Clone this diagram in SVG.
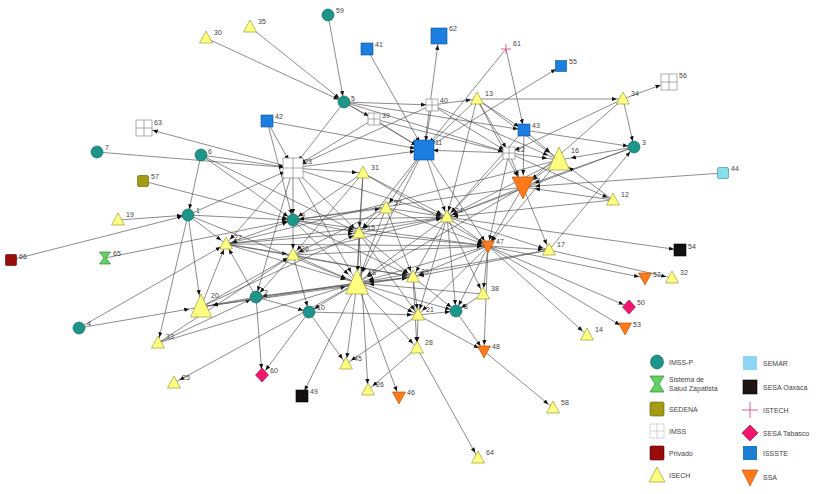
<svg xmlns="http://www.w3.org/2000/svg" width="817" height="494" viewBox="0 0 817 494">
<defs>
<style>
.e line{stroke:#4d4d4d;stroke-width:0.65;fill:none}
.lbl,.leg{font-family:"Liberation Sans",Arial,sans-serif;font-size:7px;fill:#444}
.tp{fill:#1d958a;stroke:#0e5f58;stroke-width:0.6}
.ye{fill:#ffff80;stroke:#9c9c3c;stroke-width:0.7}
.or{fill:#ff7a1a;stroke:#b04a00;stroke-width:0.6}
.bl{fill:#1c7fe0;stroke:#0d4f96;stroke-width:0.6}
.im{fill:#fff;stroke:#777;stroke-width:0.6}
.bk{fill:#141010;stroke:#000;stroke-width:0.6}
.pk{fill:#f0186e;stroke:#a00040;stroke-width:0.6}
.ol{fill:#a39c12;stroke:#5f5a00;stroke-width:0.6}
.rd{fill:#9a0c0c;stroke:#500;stroke-width:0.6}
.lb{fill:#86dfe8;stroke:#3a8a96;stroke-width:0.6}
.gr{fill:#62d262;stroke:#2e8b2e;stroke-width:0.7}
.cr{stroke:#e0609a;stroke-width:1;fill:none}
</style>
<marker id="a" viewBox="0 0 12 6" markerWidth="12" markerHeight="6" refX="11" refY="3" orient="auto" markerUnits="userSpaceOnUse"><path d="M0,0.9L5,3L0,5.1z" fill="#111"/></marker>
<marker id="b" viewBox="0 0 15 6" markerWidth="15" markerHeight="6" refX="14" refY="3" orient="auto" markerUnits="userSpaceOnUse"><path d="M0,0.9L5,3L0,5.1z" fill="#111"/></marker>
<marker id="c" viewBox="0 0 18 6" markerWidth="18" markerHeight="6" refX="17" refY="3" orient="auto" markerUnits="userSpaceOnUse"><path d="M0,0.9L5,3L0,5.1z" fill="#111"/></marker>
</defs>
<rect width="817" height="494" fill="#fff"/>
<g id="connectors" class="e">
<g marker-end="url(#a)">
<line x1="250" y1="27" x2="344" y2="102"/>
<line x1="206" y1="38" x2="344" y2="102"/>
<line x1="328" y1="15" x2="344" y2="102"/>
<line x1="506" y1="49" x2="524" y2="130"/>
<line x1="424" y1="150" x2="561" y2="66"/>
<line x1="344" y1="102" x2="432" y2="105"/>
<line x1="432" y1="105" x2="477" y2="99"/>
<line x1="477" y1="99" x2="623" y2="99"/>
<line x1="623" y1="99" x2="634" y2="147"/>
<line x1="623" y1="99" x2="509" y2="153"/>
<line x1="344" y1="102" x2="374" y2="119"/>
<line x1="344" y1="102" x2="509" y2="153"/>
<line x1="344" y1="102" x2="524" y2="130"/>
<line x1="432" y1="105" x2="509" y2="153"/>
<line x1="374" y1="119" x2="509" y2="153"/>
<line x1="477" y1="99" x2="509" y2="153"/>
<line x1="477" y1="99" x2="524" y2="130"/>
<line x1="524" y1="130" x2="634" y2="147"/>
<line x1="549" y1="250" x2="634" y2="147"/>
<line x1="509" y1="153" x2="613" y2="200"/>
<line x1="509" y1="153" x2="447" y2="217"/>
<line x1="559" y1="160" x2="447" y2="217"/>
<line x1="613" y1="200" x2="447" y2="217"/>
<line x1="447" y1="217" x2="680" y2="250"/>
<line x1="488" y1="246" x2="645" y2="278"/>
<line x1="488" y1="246" x2="629" y2="307"/>
<line x1="488" y1="246" x2="625" y2="328"/>
<line x1="488" y1="246" x2="587" y2="335"/>
<line x1="549" y1="250" x2="672" y2="278"/>
<line x1="484" y1="351" x2="553" y2="408"/>
<line x1="523" y1="187" x2="447" y2="217"/>
<line x1="523" y1="187" x2="488" y2="246"/>
<line x1="523" y1="187" x2="549" y2="250"/>
<line x1="201" y1="155" x2="293" y2="220"/>
<line x1="201" y1="155" x2="188" y2="215"/>
<line x1="267" y1="121" x2="293" y2="220"/>
<line x1="188" y1="215" x2="293" y2="220"/>
<line x1="118" y1="220" x2="188" y2="215"/>
<line x1="11" y1="260" x2="188" y2="215"/>
<line x1="143" y1="181" x2="293" y2="220"/>
<line x1="105" y1="258" x2="293" y2="220"/>
<line x1="79" y1="328" x2="226" y2="244"/>
<line x1="188" y1="215" x2="158" y2="343"/>
<line x1="158" y1="343" x2="256" y2="297"/>
<line x1="158" y1="343" x2="293" y2="255"/>
<line x1="256" y1="297" x2="226" y2="244"/>
<line x1="201" y1="307" x2="226" y2="244"/>
<line x1="256" y1="297" x2="262" y2="375"/>
<line x1="309" y1="312" x2="262" y2="375"/>
<line x1="357" y1="283" x2="174" y2="383"/>
<line x1="226" y1="244" x2="293" y2="220"/>
<line x1="226" y1="244" x2="359" y2="233"/>
<line x1="226" y1="244" x2="447" y2="217"/>
<line x1="226" y1="244" x2="293" y2="255"/>
<line x1="226" y1="244" x2="488" y2="246"/>
<line x1="201" y1="307" x2="293" y2="255"/>
<line x1="201" y1="307" x2="359" y2="233"/>
<line x1="293" y1="168" x2="293" y2="220"/>
<line x1="293" y1="168" x2="256" y2="297"/>
<line x1="293" y1="168" x2="359" y2="233"/>
<line x1="293" y1="168" x2="447" y2="217"/>
<line x1="293" y1="168" x2="363" y2="173"/>
<line x1="293" y1="220" x2="293" y2="255"/>
<line x1="293" y1="220" x2="359" y2="233"/>
<line x1="293" y1="220" x2="447" y2="217"/>
<line x1="293" y1="220" x2="413" y2="277"/>
<line x1="293" y1="220" x2="488" y2="246"/>
<line x1="293" y1="220" x2="386" y2="208"/>
<line x1="363" y1="173" x2="359" y2="233"/>
<line x1="363" y1="173" x2="447" y2="217"/>
<line x1="363" y1="173" x2="293" y2="255"/>
<line x1="363" y1="173" x2="293" y2="220"/>
<line x1="386" y1="208" x2="359" y2="233"/>
<line x1="386" y1="208" x2="413" y2="277"/>
<line x1="386" y1="208" x2="447" y2="217"/>
<line x1="386" y1="208" x2="293" y2="255"/>
<line x1="386" y1="208" x2="488" y2="246"/>
<line x1="359" y1="233" x2="447" y2="217"/>
<line x1="359" y1="233" x2="488" y2="246"/>
<line x1="359" y1="233" x2="413" y2="277"/>
<line x1="359" y1="233" x2="418" y2="315"/>
<line x1="293" y1="255" x2="309" y2="312"/>
<line x1="293" y1="255" x2="256" y2="297"/>
<line x1="293" y1="255" x2="413" y2="277"/>
<line x1="293" y1="255" x2="488" y2="246"/>
<line x1="293" y1="255" x2="447" y2="217"/>
<line x1="447" y1="217" x2="488" y2="246"/>
<line x1="447" y1="217" x2="413" y2="277"/>
<line x1="447" y1="217" x2="418" y2="315"/>
<line x1="447" y1="217" x2="483" y2="294"/>
<line x1="447" y1="217" x2="549" y2="250"/>
<line x1="447" y1="217" x2="456" y2="311"/>
<line x1="488" y1="246" x2="413" y2="277"/>
<line x1="488" y1="246" x2="418" y2="315"/>
<line x1="488" y1="246" x2="483" y2="294"/>
<line x1="488" y1="246" x2="484" y2="351"/>
<line x1="488" y1="246" x2="549" y2="250"/>
<line x1="488" y1="246" x2="456" y2="311"/>
<line x1="413" y1="277" x2="418" y2="315"/>
<line x1="413" y1="277" x2="456" y2="311"/>
<line x1="413" y1="277" x2="417" y2="348"/>
<line x1="357" y1="283" x2="309" y2="312"/>
<line x1="357" y1="283" x2="418" y2="315"/>
<line x1="357" y1="283" x2="417" y2="348"/>
<line x1="357" y1="283" x2="346" y2="364"/>
<line x1="357" y1="283" x2="399" y2="397"/>
<line x1="357" y1="283" x2="302" y2="396"/>
<line x1="357" y1="283" x2="256" y2="297"/>
<line x1="357" y1="283" x2="456" y2="311"/>
<line x1="418" y1="315" x2="456" y2="311"/>
<line x1="418" y1="315" x2="484" y2="351"/>
<line x1="418" y1="315" x2="417" y2="348"/>
<line x1="418" y1="315" x2="346" y2="364"/>
<line x1="456" y1="311" x2="484" y2="351"/>
<line x1="309" y1="312" x2="346" y2="364"/>
<line x1="309" y1="312" x2="418" y2="315"/>
<line x1="483" y1="294" x2="456" y2="311"/>
<line x1="417" y1="348" x2="478" y2="458"/>
<line x1="417" y1="348" x2="368" y2="390"/>
<line x1="359" y1="233" x2="368" y2="390"/>
<line x1="256" y1="297" x2="309" y2="312"/>
<line x1="424" y1="150" x2="447" y2="217"/>
<line x1="424" y1="150" x2="359" y2="233"/>
<line x1="424" y1="150" x2="488" y2="246"/>
<line x1="424" y1="150" x2="386" y2="208"/>
<line x1="549" y1="250" x2="413" y2="277"/>
<line x1="523" y1="187" x2="293" y2="220"/>
<line x1="559" y1="160" x2="226" y2="244"/>
<line x1="634" y1="147" x2="447" y2="217"/>
<line x1="226" y1="244" x2="413" y2="277"/>
<line x1="201" y1="155" x2="359" y2="233"/>
<line x1="509" y1="153" x2="488" y2="246"/>
<line x1="524" y1="130" x2="447" y2="217"/>
<line x1="559" y1="160" x2="488" y2="246"/>
<line x1="188" y1="215" x2="226" y2="244"/>
<line x1="293" y1="168" x2="226" y2="244"/>
<line x1="477" y1="99" x2="447" y2="217"/>
<line x1="363" y1="173" x2="488" y2="246"/>
<line x1="256" y1="297" x2="413" y2="277"/>
<line x1="201" y1="307" x2="413" y2="277"/>
</g>
<g marker-end="url(#b)">
<line x1="367" y1="49" x2="424" y2="150"/>
<line x1="424" y1="150" x2="439" y2="36"/>
<line x1="506" y1="49" x2="424" y2="150"/>
<line x1="623" y1="99" x2="669" y2="82"/>
<line x1="344" y1="102" x2="293" y2="168"/>
<line x1="344" y1="102" x2="424" y2="150"/>
<line x1="432" y1="105" x2="424" y2="150"/>
<line x1="432" y1="105" x2="293" y2="168"/>
<line x1="374" y1="119" x2="424" y2="150"/>
<line x1="374" y1="119" x2="293" y2="168"/>
<line x1="477" y1="99" x2="424" y2="150"/>
<line x1="509" y1="153" x2="424" y2="150"/>
<line x1="97" y1="152" x2="293" y2="168"/>
<line x1="293" y1="168" x2="144" y2="128"/>
<line x1="201" y1="155" x2="293" y2="168"/>
<line x1="267" y1="121" x2="293" y2="168"/>
<line x1="267" y1="121" x2="424" y2="150"/>
<line x1="188" y1="215" x2="293" y2="168"/>
<line x1="293" y1="168" x2="424" y2="150"/>
</g>
<g marker-end="url(#c)">
<line x1="623" y1="99" x2="523" y2="187"/>
<line x1="432" y1="105" x2="559" y2="160"/>
<line x1="477" y1="99" x2="559" y2="160"/>
<line x1="477" y1="99" x2="523" y2="187"/>
<line x1="524" y1="130" x2="559" y2="160"/>
<line x1="524" y1="130" x2="523" y2="187"/>
<line x1="634" y1="147" x2="559" y2="160"/>
<line x1="634" y1="147" x2="523" y2="187"/>
<line x1="509" y1="153" x2="559" y2="160"/>
<line x1="509" y1="153" x2="523" y2="187"/>
<line x1="559" y1="160" x2="523" y2="187"/>
<line x1="613" y1="200" x2="523" y2="187"/>
<line x1="613" y1="200" x2="559" y2="160"/>
<line x1="723" y1="173" x2="523" y2="187"/>
<line x1="188" y1="215" x2="201" y2="307"/>
<line x1="79" y1="328" x2="201" y2="307"/>
<line x1="256" y1="297" x2="201" y2="307"/>
<line x1="357" y1="283" x2="201" y2="307"/>
<line x1="226" y1="244" x2="357" y2="283"/>
<line x1="293" y1="168" x2="357" y2="283"/>
<line x1="293" y1="220" x2="357" y2="283"/>
<line x1="363" y1="173" x2="357" y2="283"/>
<line x1="386" y1="208" x2="357" y2="283"/>
<line x1="359" y1="233" x2="357" y2="283"/>
<line x1="293" y1="255" x2="357" y2="283"/>
<line x1="447" y1="217" x2="357" y2="283"/>
<line x1="488" y1="246" x2="357" y2="283"/>
<line x1="413" y1="277" x2="357" y2="283"/>
<line x1="424" y1="150" x2="357" y2="283"/>
<line x1="549" y1="250" x2="357" y2="283"/>
<line x1="523" y1="187" x2="357" y2="283"/>
<line x1="483" y1="294" x2="357" y2="283"/>
<line x1="188" y1="215" x2="357" y2="283"/>
<line x1="158" y1="343" x2="357" y2="283"/>
</g>
</g>
<g id="nodes">
<g id="n1" transform="translate(188,215)"><circle class="tp" r="6"/><text class="lbl" x="8" y="-2">1</text></g>
<g id="n2" transform="translate(256,297)"><circle class="tp" r="6"/><text class="lbl" x="8" y="-2">2</text></g>
<g id="n3" transform="translate(634,147)"><circle class="tp" r="6"/><text class="lbl" x="8" y="-2">3</text></g>
<g id="n4" transform="translate(79,328)"><circle class="tp" r="6"/><text class="lbl" x="8" y="-2">4</text></g>
<g id="n5" transform="translate(344,102)"><circle class="tp" r="6"/><text class="lbl" x="7" y="-1">5</text></g>
<g id="n6" transform="translate(201,155)"><circle class="tp" r="6"/><text class="lbl" x="7" y="-1">6</text></g>
<g id="n7" transform="translate(97,152)"><circle class="tp" r="6"/><text class="lbl" x="8" y="-2">7</text></g>
<g id="n8" transform="translate(456,311)"><circle class="tp" r="6"/><text class="lbl" x="8" y="-2">8</text></g>
<g id="n9" transform="translate(293,220)"><circle class="tp" r="6"/><text class="lbl" x="8" y="-2">9</text></g>
<g id="n10" transform="translate(309,312)"><circle class="tp" r="6"/><text class="lbl" x="8" y="-2">10</text></g>
<g id="n11" transform="translate(424,150)"><rect class="bl" x="-10" y="-10" width="20" height="20"/><text class="lbl" x="11" y="-5">11</text></g>
<g id="n12" transform="translate(613,200)"><polygon class="ye" points="0,-7 6.5,5 -6.5,5"/><text class="lbl" x="8" y="-3">12</text></g>
<g id="n13" transform="translate(477,99)"><polygon class="ye" points="0,-7 6.5,5 -6.5,5"/><text class="lbl" x="8" y="-3">13</text></g>
<g id="n14" transform="translate(587,335)"><polygon class="ye" points="0,-7 6.5,5 -6.5,5"/><text class="lbl" x="8" y="-3">14</text></g>
<g id="n15" transform="translate(359,233)"><polygon class="ye" points="0,-7 6.5,5 -6.5,5"/><text class="lbl" x="8" y="-3">15</text></g>
<g id="n16" transform="translate(559,160)"><polygon class="ye" points="0,-13 10.5,10 -10.5,10"/><text class="lbl" x="12" y="-7">16</text></g>
<g id="n17" transform="translate(549,250)"><polygon class="ye" points="0,-7 6.5,5 -6.5,5"/><text class="lbl" x="8" y="-3">17</text></g>
<g id="n18" transform="translate(357,283)"><polygon class="ye" points="0,-14 11.5,11 -11.5,11"/><text class="lbl" x="11" y="-8">18</text></g>
<g id="n19" transform="translate(118,220)"><polygon class="ye" points="0,-7 6.5,5 -6.5,5"/><text class="lbl" x="8" y="-3">19</text></g>
<g id="n20" transform="translate(201,307)"><polygon class="ye" points="0,-13 10.5,10 -10.5,10"/><text class="lbl" x="10" y="-9">20</text></g>
<g id="n21" transform="translate(418,315)"><polygon class="ye" points="0,-7 6.5,5 -6.5,5"/><text class="lbl" x="8" y="-3">21</text></g>
<g id="n22" transform="translate(509,153)"><g class="im"><rect x="-6" y="-6" width="12" height="12"/><path d="M0,-6V6M-6,0H6"/></g><text class="lbl" x="8" y="-1">22</text></g>
<g id="n23" transform="translate(293,168)"><g class="im"><rect x="-10" y="-10" width="20" height="20"/><path d="M0,-10V10M-10,0H10"/></g><text class="lbl" x="11" y="-4">23</text></g>
<g id="n24" transform="translate(447,217)"><polygon class="ye" points="0,-7 6.5,5 -6.5,5"/><text class="lbl" x="8" y="-4">24</text></g>
<g id="n25" transform="translate(174,383)"><polygon class="ye" points="0,-7 6.5,5 -6.5,5"/><text class="lbl" x="8" y="-3">25</text></g>
<g id="n26" transform="translate(368,390)"><polygon class="ye" points="0,-7 6.5,5 -6.5,5"/><text class="lbl" x="8" y="-3">26</text></g>
<g id="n27" transform="translate(226,244)"><polygon class="ye" points="0,-7 6.5,5 -6.5,5"/><text class="lbl" x="8" y="-4">27</text></g>
<g id="n28" transform="translate(417,348)"><polygon class="ye" points="0,-7 6.5,5 -6.5,5"/><text class="lbl" x="8" y="-3">28</text></g>
<g id="n29" transform="translate(413,277)"><polygon class="ye" points="0,-7 6.5,5 -6.5,5"/><text class="lbl" x="8" y="-3">29</text></g>
<g id="n30" transform="translate(206,38)"><polygon class="ye" points="0,-7 6.5,5 -6.5,5"/><text class="lbl" x="8" y="-3">30</text></g>
<g id="n31" transform="translate(363,173)"><polygon class="ye" points="0,-7 6.5,5 -6.5,5"/><text class="lbl" x="8" y="-3">31</text></g>
<g id="n32" transform="translate(672,278)"><polygon class="ye" points="0,-7 6.5,5 -6.5,5"/><text class="lbl" x="8" y="-3">32</text></g>
<g id="n33" transform="translate(158,343)"><polygon class="ye" points="0,-7 6.5,5 -6.5,5"/><text class="lbl" x="8" y="-4">33</text></g>
<g id="n34" transform="translate(623,99)"><polygon class="ye" points="0,-7 6.5,5 -6.5,5"/><text class="lbl" x="8" y="-3">34</text></g>
<g id="n35" transform="translate(250,27)"><polygon class="ye" points="0,-7 6.5,5 -6.5,5"/><text class="lbl" x="8" y="-3">35</text></g>
<g id="n36" transform="translate(293,255)"><polygon class="ye" points="0,-7 6.5,5 -6.5,5"/><text class="lbl" x="8" y="-4">36</text></g>
<g id="n37" transform="translate(386,208)"><polygon class="ye" points="0,-7 6.5,5 -6.5,5"/><text class="lbl" x="8" y="-3">37</text></g>
<g id="n38" transform="translate(483,294)"><polygon class="ye" points="0,-7 6.5,5 -6.5,5"/><text class="lbl" x="8" y="-3">38</text></g>
<g id="n39" transform="translate(374,119)"><g class="im"><rect x="-6" y="-6" width="12" height="12"/><path d="M0,-6V6M-6,0H6"/></g><text class="lbl" x="8" y="-1">39</text></g>
<g id="n40" transform="translate(432,105)"><g class="im"><rect x="-6" y="-6" width="12" height="12"/><path d="M0,-6V6M-6,0H6"/></g><text class="lbl" x="8" y="-2">40</text></g>
<g id="n41" transform="translate(367,49)"><rect class="bl" x="-6" y="-6" width="12" height="12"/><text class="lbl" x="8" y="-2">41</text></g>
<g id="n42" transform="translate(267,121)"><rect class="bl" x="-6" y="-6" width="12" height="12"/><text class="lbl" x="8" y="-2">42</text></g>
<g id="n43" transform="translate(524,130)"><rect class="bl" x="-6" y="-6" width="12" height="12"/><text class="lbl" x="8" y="-2">43</text></g>
<g id="n44" transform="translate(723,173)"><rect class="lb" x="-5.5" y="-5.5" width="11" height="11" rx="1.5"/><text class="lbl" x="8" y="-2">44</text></g>
<g id="n45" transform="translate(346,364)"><polygon class="ye" points="0,-7 6.5,5 -6.5,5"/><text class="lbl" x="8" y="-3">45</text></g>
<g id="n46" transform="translate(399,397)"><polygon class="or" points="-6.5,-5 6.5,-5 0,7"/><text class="lbl" x="8" y="-2">46</text></g>
<g id="n47" transform="translate(488,246)"><polygon class="or" points="-6.5,-5 6.5,-5 0,7"/><text class="lbl" x="8" y="-2">47</text></g>
<g id="n48" transform="translate(484,351)"><polygon class="or" points="-6.5,-5 6.5,-5 0,7"/><text class="lbl" x="8" y="-2">48</text></g>
<g id="n49" transform="translate(302,396)"><rect class="bk" x="-6" y="-6" width="12" height="12"/><text class="lbl" x="8" y="-2">49</text></g>
<g id="n50" transform="translate(629,307)"><polygon class="pk" points="0,-7 6.5,0 0,7 -6.5,0"/><text class="lbl" x="8" y="-2">50</text></g>
<g id="n51" transform="translate(523,187)"><polygon class="or" points="-11,-10 11,-10 0,12"/><text class="lbl" x="10" y="-4">51</text></g>
<g id="n52" transform="translate(645,278)"><polygon class="or" points="-6.5,-5 6.5,-5 0,7"/><text class="lbl" x="8" y="-1">52</text></g>
<g id="n53" transform="translate(625,328)"><polygon class="or" points="-6.5,-5 6.5,-5 0,7"/><text class="lbl" x="8" y="-1">53</text></g>
<g id="n54" transform="translate(680,250)"><rect class="bk" x="-6" y="-6" width="12" height="12"/><text class="lbl" x="8" y="-1">54</text></g>
<g id="n55" transform="translate(561,66)"><rect class="bl" x="-5.5" y="-5.5" width="11" height="11"/><text class="lbl" x="8" y="-2">55</text></g>
<g id="n56" transform="translate(669,82)"><g class="im"><rect x="-8" y="-8" width="16" height="16"/><path d="M0,-8V8M-8,0H8"/></g><text class="lbl" x="10" y="-4">56</text></g>
<g id="n57" transform="translate(143,181)"><rect class="ol" x="-5.5" y="-5.5" width="11" height="11" rx="1.5"/><text class="lbl" x="8" y="-2">57</text></g>
<g id="n58" transform="translate(553,408)"><polygon class="ye" points="0,-7 6.5,5 -6.5,5"/><text class="lbl" x="8" y="-3">58</text></g>
<g id="n59" transform="translate(328,15)"><circle class="tp" r="6"/><text class="lbl" x="8" y="-2">59</text></g>
<g id="n60" transform="translate(262,375)"><polygon class="pk" points="0,-7 6.5,0 0,7 -6.5,0"/><text class="lbl" x="8" y="-2">60</text></g>
<g id="n61" transform="translate(506,49)"><path class="cr" d="M-5,0H5M0,-5V5"/><text class="lbl" x="7" y="-3">61</text></g>
<g id="n62" transform="translate(439,36)"><rect class="bl" x="-8" y="-8" width="16" height="16"/><text class="lbl" x="10" y="-5">62</text></g>
<g id="n63" transform="translate(144,128)"><g class="im"><rect x="-8" y="-8" width="16" height="16"/><path d="M0,-8V8M-8,0H8"/></g><text class="lbl" x="10" y="-3">63</text></g>
<g id="n64" transform="translate(478,458)"><polygon class="ye" points="0,-7 6.5,5 -6.5,5"/><text class="lbl" x="8" y="-3">64</text></g>
<g id="n65" transform="translate(105,258)"><polygon class="gr" points="-5.5,-6 5.5,-6 1,0 5.5,6 -5.5,6 -1,0"/><text class="lbl" x="8" y="-2">65</text></g>
<g id="n66" transform="translate(11,260)"><rect class="rd" x="-5.5" y="-5.5" width="11" height="11" rx="1"/><text class="lbl" x="8" y="-1">66</text></g>
</g>
<g id="legend">
<ellipse class="tp" cx="657" cy="362" rx="6.5" ry="7"/><text class="leg" x="669" y="364.5">IMSS-P</text>
<polygon class="gr" points="650,376 664,376 659,384 664,392 650,392 655,384"/><text class="leg" x="669" y="382">Sistema de</text><text class="leg" x="669" y="391">Salud Zapatista</text>
<rect class="ol" x="650" y="402" width="14" height="14" rx="1.5"/><text class="leg" x="669" y="411.5">SEDENA</text>
<g class="im" style="stroke:#bbb"><rect x="650" y="424" width="14" height="14"/><path d="M657,424V438M650,431H664"/></g><text class="leg" x="669" y="433.5">IMSS</text>
<rect class="rd" x="650" y="446" width="14" height="14" rx="1"/><text class="leg" x="669" y="455.5">Privado</text>
<polygon class="ye" points="657,467 665,482 649,482"/><text class="leg" x="669" y="478">ISECH</text>
<rect x="743" y="356" width="14" height="14" fill="#8ed6f6"/><text class="leg" x="763" y="365.5">SEMAR</text>
<rect class="bk" x="743" y="380" width="14" height="14" style="fill:#1e1414"/><text class="leg" x="763" y="389.5">SESA Oaxaca</text>
<path class="cr" d="M742,410H758M750,402V418"/><text class="leg" x="763" y="412.5">ISTECH</text>
<polygon class="pk" points="750,425 758,433 750,441 742,433"/><text class="leg" x="763" y="435.5">SESA Tabasco</text>
<rect x="743" y="446" width="14" height="14" fill="#1a7fd2"/><text class="leg" x="763" y="455.5">ISSSTE</text>
<polygon class="or" points="742,470 758,470 750,486"/><text class="leg" x="763" y="479.5">SSA</text>
</g>
</svg>
